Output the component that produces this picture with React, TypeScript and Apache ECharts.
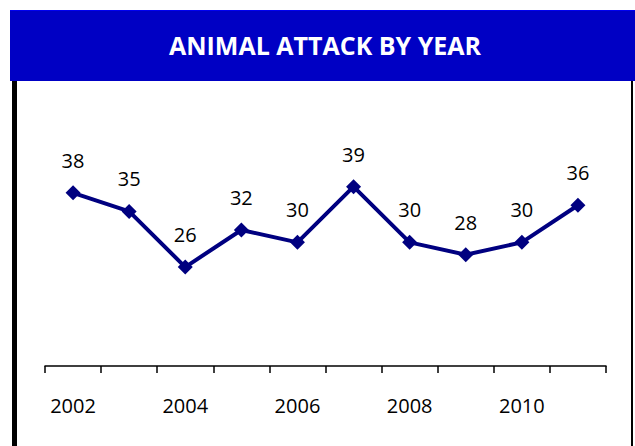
import React, { useEffect, useRef } from "react";
import * as echarts from "echarts";

const years = ["2002", "2003", "2004", "2005", "2006", "2007", "2008", "2009", "2010", "2011"];
const attacks = [38, 35, 26, 32, 30, 39, 30, 28, 30, 36];
const titleText = "ANIMAL ATTACK BY YEAR";

export default function App() {
  const ref = useRef<HTMLDivElement>(null);
  useEffect(() => {
    if (!ref.current) return;
    const chart = echarts.init(ref.current, undefined, { renderer: "svg" });
    const font = "'Open Sans', 'Noto Sans', sans-serif";
    chart.setOption({
      animation: false,
      backgroundColor: "#ffffff",
      title: {
        text: titleText,
        left: 325,
        top: 32,
        padding: 0,
        textAlign: "center",
        textStyle: { color: "#ffffff", fontSize: 25, fontWeight: "bold", fontFamily: font },
      },
      graphic: [
        { type: "rect", z: -1, shape: { x: 10, y: 10, width: 625, height: 71 }, style: { fill: "#0000C4" } },
        { type: "rect", z: -1, shape: { x: 10, y: 10, width: 625, height: 1 }, style: { fill: "#0000F0" } },
        { type: "rect", shape: { x: 12, y: 81, width: 5, height: 365 }, style: { fill: "#000000" } },
        { type: "rect", shape: { x: 631, y: 81, width: 2, height: 365 }, style: { fill: "#000000" } },
      ],
      grid: { left: 45, right: 29, top: 180.5, bottom: 80, containLabel: false },
      xAxis: {
        type: "category",
        data: years,
        boundaryGap: true,
        axisLine: { lineStyle: { color: "#000000", width: 1.5 } },
        axisTick: { show: true, alignWithLabel: false, length: 7, lineStyle: { color: "#000000", width: 1.5 }, interval: 0 },
        axisLabel: { interval: 1, margin: 29, color: "#000000", fontSize: 20, fontFamily: font },
      },
      yAxis: {
        type: "value",
        min: 10,
        max: 40,
        show: false,
        splitLine: { show: false },
      },
      series: [
        {
          type: "line",
          data: attacks,
          symbol: "diamond",
          symbolSize: 15,
          itemStyle: { color: "#000080" },
          lineStyle: { color: "#000080", width: 4 },
          label: {
            show: true,
            position: "top",
            distance: 15,
            color: "#000000",
            fontSize: 20,
            fontFamily: font,
          },
        },
      ],
    });
    return () => chart.dispose();
  }, []);
  return <div ref={ref} style={{ position: "fixed", left: 0, top: 0, width: 635, height: 446 }} />;
}
